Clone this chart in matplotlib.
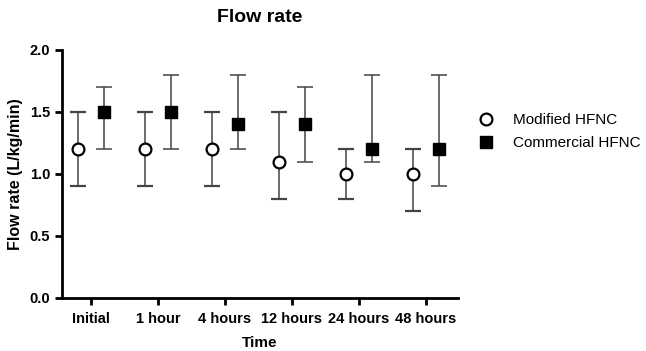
import matplotlib
matplotlib.use("Agg")
import matplotlib.pyplot as plt
import numpy as np

plt.rcParams['font.family'] = ['Liberation Sans', 'DejaVu Sans']

times = ["Initial", "1 hour", "4 hours", "12 hours", "24 hours", "48 hours"]

mod_med = [1.2, 1.2, 1.2, 1.1, 1.0, 1.0]
mod_low = [0.9, 0.9, 0.9, 0.8, 0.8, 0.7]
mod_high = [1.5, 1.5, 1.5, 1.5, 1.2, 1.2]

com_med = [1.5, 1.5, 1.4, 1.4, 1.2, 1.2]
com_low = [1.2, 1.2, 1.2, 1.1, 1.1, 0.9]
com_high = [1.7, 1.8, 1.8, 1.7, 1.8, 1.8]

x = np.arange(len(times))
off = 0.19

fig = plt.figure(figsize=(6.46, 3.51), dpi=100)
ax = fig.add_axes([0.096, 0.151, 0.613, 0.707])

mm = np.array(mod_med)
cm = np.array(com_med)
ax.errorbar(x - off, mm, yerr=[mm - np.array(mod_low), np.array(mod_high) - mm],
            fmt='o', mfc='white', mec='black', mew=1.6, ms=8.5,
            ecolor='#444444', elinewidth=1.1, capsize=6, capthick=1.1,
            label="Modified HFNC", zorder=3)
ax.errorbar(x + off, cm, yerr=[cm - np.array(com_low), np.array(com_high) - cm],
            fmt='s', mfc='black', mec='black', ms=8.5,
            ecolor='#444444', elinewidth=1.1, capsize=6, capthick=1.1,
            label="Commercial HFNC", zorder=3)

ax.set_xlim(-0.43, 5.48)
ax.set_ylim(0, 2.0)
ax.set_yticks([0, 0.5, 1.0, 1.5, 2.0])
ax.set_yticklabels(["0.0", "0.5", "1.0", "1.5", "2.0"])
ax.set_xticks(x)
ax.set_xticklabels(times)
for s in ["top", "right"]:
    ax.spines[s].set_visible(False)
for s in ["left", "bottom"]:
    ax.spines[s].set_linewidth(2)
ax.tick_params(width=2, length=5, labelsize=10.5)
ax.tick_params(axis='x', pad=5)
for lab in ax.get_xticklabels() + ax.get_yticklabels():
    lab.set_fontweight('bold')

ax.set_xlabel("Time", fontsize=11, fontweight='bold', labelpad=7)
ax.set_ylabel("Flow rate (L/kg/min)", fontsize=11.5, fontweight='bold', labelpad=5)
ax.set_title("Flow rate", fontsize=14, fontweight='bold', pad=20)

h, l = ax.get_legend_handles_labels()
h = [hh[0] for hh in h]
fig.legend(h, l, loc='center left', bbox_to_anchor=(0.707, 0.625), frameon=False,
           fontsize=11, handletextpad=0.8, labelspacing=0.6)

fig.savefig("out.png", dpi=100)
